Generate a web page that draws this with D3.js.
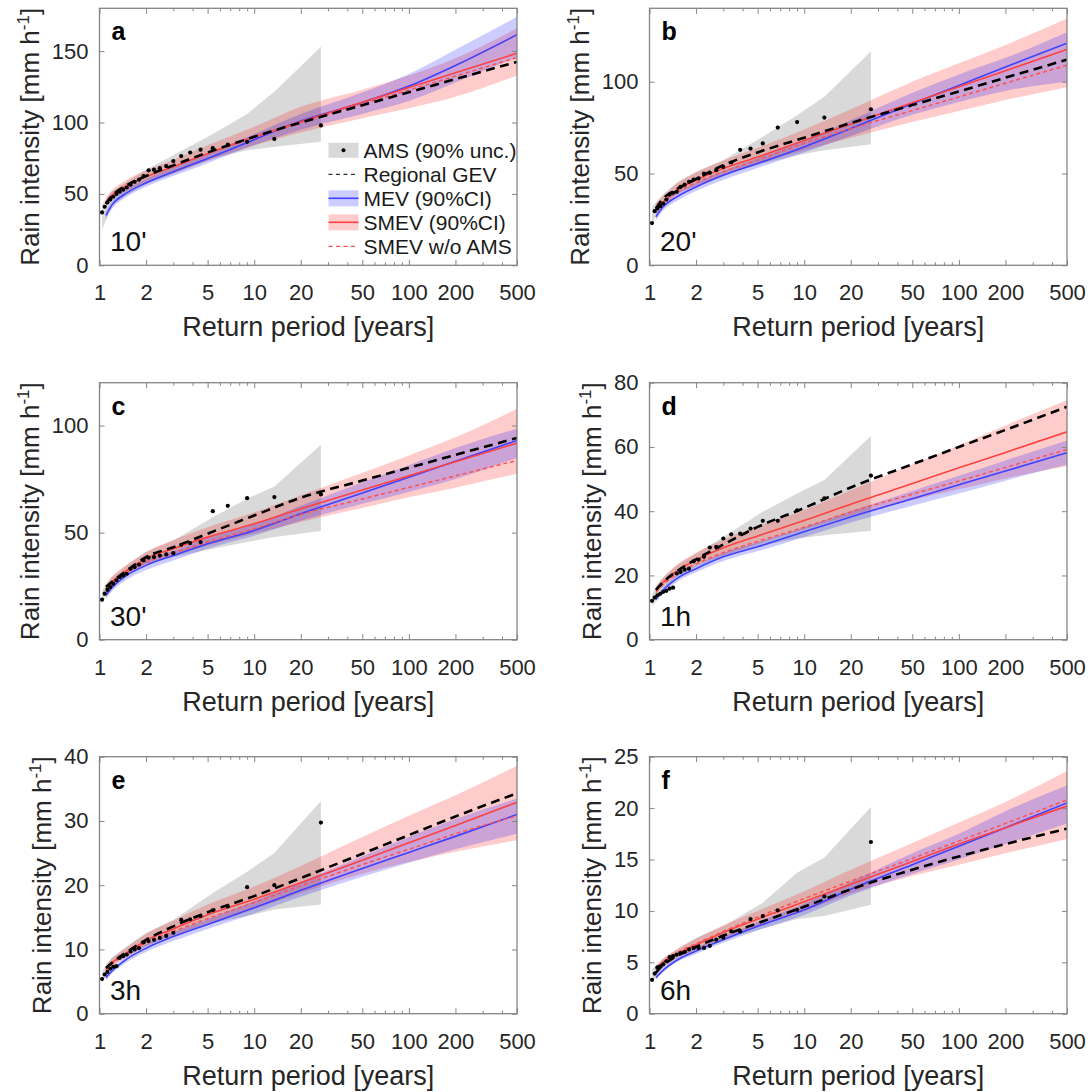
<!DOCTYPE html>
<html>
<head>
<meta charset="utf-8">
<script src="https://cdn.jsdelivr.net/npm/d3@7"></script>
<style>
  body { margin: 0; background: #fff; }
  text { font-family: "Liberation Sans", Arial, Helvetica, sans-serif; }
</style>
</head>
<body>
<div id="chart"></div>
<script>
// ---- data ----
const panelLetters = ['a', 'b', 'c', 'd', 'e', 'f'];
const durations = ["10'", "20'", "30'", "1h", "3h", "6h"];
const yMax = [180, 140, 120, 80, 40, 25];
const yTicks = [[0, 50, 100, 150], [0, 50, 100], [0, 50, 100], [0, 20, 40, 60, 80], [0, 10, 20, 30, 40], [0, 5, 10, 15, 20, 25]];
const xTicks = [1, 2, 5, 10, 20, 50, 100, 200, 500];
const xMinor = [3, 4, 6, 7, 8, 9, 30, 40, 60, 70, 80, 90, 300, 400];
const legendLabels = ['AMS (90% unc.)', 'Regional GEV', 'MEV (90%CI)', 'SMEV (90%CI)', 'SMEV w/o AMS'];

// return periods of the model curves
const tCurve = [1.1, 1.2, 1.5, 2, 3, 5, 10, 20, 50, 100, 200, 500];
// return periods of the AMS uncertainty band
const tBand = [1.04, 1.2, 1.5, 2, 3, 5.4, 9, 13.5, 27];
// plotting positions of the 26 annual maxima
const tAms = [27, 13.5, 9, 6.75, 5.4, 4.5, 3.857, 3.375, 3, 2.7, 2.455, 2.25, 2.077, 1.929, 1.8, 1.688, 1.588, 1.5, 1.421, 1.35, 1.286, 1.227, 1.174, 1.125, 1.08, 1.038];

const ams = [
  [98, 88.5, 86.5, 84.5, 82, 81, 79, 76.5, 73, 69.5, 68, 67, 66.5, 62.5, 60, 58.5, 56.5, 54.5, 53, 51.5, 50, 48, 46, 44, 41, 37],
  [85, 80.5, 78, 75, 66.4, 63.6, 62.9, 56, 53.6, 51.8, 50.4, 50, 47.3, 46.7, 45.5, 44, 42.7, 40, 39.5, 38.5, 35.8, 33.6, 32.2, 31, 29.5, 23],
  [67.8, 66.6, 66.1, 62.5, 60, 45.6, 45.1, 44.3, 40.4, 39.8, 39.3, 38.6, 38.3, 37, 35.1, 33.9, 33.1, 30.8, 30, 29.2, 27.7, 26.1, 24.6, 23.3, 21.5, 18.7],
  [51.1, 44, 40.3, 37, 37, 34.6, 33, 32.8, 31.5, 28.9, 28.7, 25.8, 24.9, 24.4, 22.1, 21.8, 21.1, 20.6, 16.2, 15.9, 15.2, 14.9, 14.3, 13.8, 13.1, 12.1],
  [29.75, 20, 19.7, 16.7, 16.1, 15.2, 14.7, 14.6, 12.6, 12.1, 11.8, 11.5, 11.3, 11.1, 10.2, 10, 9.7, 9.2, 8.95, 8.7, 7.4, 7.3, 7, 6.5, 6.1, 5.4],
  [16.7, 11.4, 10.1, 10.06, 9.5, 9.2, 8, 8, 7.4, 7.2, 6.6, 6.4, 6.4, 6.4, 6.25, 6, 5.9, 5.75, 5.6, 5.5, 5.1, 4.8, 4.6, 4.5, 3.9, 3.3]
];
const amsLo = [
  [25, 42, 49, 57, 64, 75, 80.5, 83, 86.5],
  [22.7, 33.6, 39, 43.6, 49, 55.5, 60, 62.7, 66],
  [16.8, 26.1, 30.8, 35.5, 38.6, 42.5, 45.6, 47.9, 50.7],
  [10.2, 15.4, 19.5, 22.6, 25.8, 29.4, 31.5, 32.5, 33.9],
  [4.8, 7.4, 9, 10.5, 12.1, 14.1, 15.2, 16.2, 17],
  [3, 4.5, 5.4, 6.2, 7.2, 8.3, 9.2, 9.5, 10.6]
];
const amsHi = [
  [43, 51.5, 58.5, 67, 77, 92, 106, 121.5, 153],
  [31.8, 38, 45, 51, 57.3, 70, 81.8, 91.8, 116.4],
  [23, 29.2, 34.7, 40.9, 46.3, 57.2, 65.8, 71.5, 91],
  [14.3, 19, 23.2, 26.8, 32, 39.8, 45.5, 49.7, 63.4],
  [6.6, 8.7, 10.5, 12.6, 14.6, 18.8, 22.1, 25, 33.1],
  [4.3, 5.3, 6.2, 7.4, 8.5, 10.8, 13.7, 15.2, 20.1]
];
const gev = [
  [43, 48.5, 56, 62.5, 70, 79, 90, 100, 112.1, 121.2, 130.4, 142.5],
  [31, 35.5, 41.5, 47, 54.5, 61.5, 69.5, 77.5, 87.3, 94.7, 102.2, 112],
  [24.6, 26.9, 32.3, 38.6, 43.2, 49.5, 58, 66.3, 74.3, 80.3, 86.3, 94.2],
  [15.5, 17.5, 21.3, 25, 29.6, 35.1, 41, 47.4, 54.6, 60, 65.3, 72.5],
  [7.1, 7.9, 9.6, 11.5, 13.6, 15.8, 18.3, 21.1, 24.9, 27.8, 30.7, 34.3],
  [4, 4.6, 5.6, 6.5, 7.6, 8.8, 10.4, 12.1, 14, 15.3, 16.5, 18]
];
const mev = [
  [35, 42, 50.7, 57.7, 65.5, 74.8, 88, 101, 114, 125.5, 140, 161.5],
  [26.4, 31, 37.3, 42.7, 49, 55.5, 64.5, 74.5, 88, 98, 108, 121],
  [20.7, 24.1, 30, 34.7, 39.3, 44.8, 51, 58.8, 68.5, 75.9, 83.3, 93],
  [12.5, 14.9, 19, 22.1, 25.8, 28.9, 33.6, 38.2, 43.9, 48.2, 52.5, 58.2],
  [5.6, 6.6, 8.5, 10.2, 12, 13.9, 16.5, 19.2, 22.6, 25.1, 27.6, 31],
  [3.5, 4.1, 5.2, 6.1, 7.2, 8.5, 10.1, 12.1, 14.5, 16.3, 18.1, 20.5]
];
const mevLo = [
  [32, 39, 48, 55, 62.5, 71.5, 84, 95, 106, 115, 128, 146],
  [24.5, 29, 35, 40.5, 46.5, 53, 61.5, 70.5, 82, 89, 95, 100],
  [19, 22.5, 28, 32.5, 37, 42.5, 48.5, 55.5, 63.5, 69, 75, 85],
  [11.8, 14, 18, 21, 24.5, 27.5, 32, 36.5, 41.7, 45.5, 49.5, 54.5],
  [5.2, 6.2, 8, 9.6, 11.3, 13.2, 15.6, 18.2, 21.3, 23.5, 25.6, 28],
  [3.3, 3.9, 5, 5.8, 6.9, 8.1, 9.6, 11.5, 13.6, 15, 16.5, 18.5]
];
const mevHi = [
  [37.5, 44.5, 53.5, 60.5, 68.5, 78, 92, 106, 121, 134, 151, 174],
  [28.5, 33, 39.5, 45, 51.5, 58.5, 68, 79, 94, 104, 113, 127],
  [22.5, 26, 32, 37, 41.5, 47.5, 54, 62.5, 73.5, 81.5, 89.5, 98.5],
  [13.3, 15.8, 20, 23.2, 27, 30.3, 35, 40, 46.3, 51, 55.8, 62],
  [6, 7, 9, 10.8, 12.7, 14.7, 17.5, 20.5, 24.5, 27.5, 30.3, 33.5],
  [3.8, 4.4, 5.5, 6.4, 7.5, 8.9, 10.7, 12.8, 15.6, 17.5, 19.7, 22.2]
];
const smev = [
  [44, 49, 56, 62, 69, 78.3, 90, 100.5, 114.2, 124.5, 134.8, 148.5],
  [30.9, 33.8, 41, 46.4, 52.7, 59, 68, 77, 88.5, 97.3, 106, 117.6],
  [23.8, 26.9, 32.3, 37.8, 42.5, 47.9, 54.1, 61.1, 69.9, 76.5, 83.1, 91.8],
  [15.3, 17.4, 21.3, 24.8, 28.6, 32.3, 37.1, 42.2, 48.6, 53.5, 58.3, 64.7],
  [7, 7.9, 9.5, 11.4, 13.2, 15.4, 17.8, 20.4, 23.9, 26.6, 29.3, 32.9],
  [4.3, 4.9, 5.8, 6.7, 7.9, 9.2, 10.9, 12.6, 14.8, 16.5, 18.1, 20.2]
];
const smevLo = [
  [41, 45.5, 52, 58, 64.5, 73, 84, 93, 103, 110, 118, 133],
  [28, 31, 38, 43, 49, 55, 62.5, 69.5, 78, 84, 90, 97],
  [21.5, 24.5, 30, 35, 39, 44, 49.5, 55, 61.5, 66.5, 71, 77.5],
  [14.2, 16.2, 19.8, 23.1, 26.2, 29.8, 34.4, 38.5, 43.5, 46.8, 50.2, 54],
  [6.4, 7.3, 8.8, 10.5, 12.2, 14, 16.3, 18.8, 21.8, 23.6, 25.2, 27],
  [3.9, 4.4, 5.4, 6.2, 7.3, 8.5, 10, 11.7, 13.4, 14.5, 15.6, 17]
];
const smevHi = [
  [47.5, 52.5, 60, 66.5, 74, 84, 97, 111, 123, 133, 145, 166],
  [34, 37, 44.5, 50.5, 57, 64, 74, 85, 100, 110, 120, 134.5],
  [26, 29.5, 35, 41, 46.5, 52.5, 59.5, 67.5, 78, 86, 94.5, 107.8],
  [16.7, 18.9, 23.3, 27.1, 31.2, 35.3, 40.4, 46.5, 54.5, 60.5, 66.7, 74.5],
  [7.7, 8.6, 10.3, 12.4, 14.5, 17, 19.8, 23, 27.5, 30.8, 34, 38.6],
  [4.6, 5.2, 6.3, 7.3, 8.6, 10, 11.9, 14, 16.6, 18.6, 20.6, 23.6]
];
const smevNoAms = [
  [43.5, 48.5, 55.5, 62, 69, 78, 89.5, 100, 112.9, 122.7, 132.5, 145.5],
  [30.4, 33.3, 40, 45, 51, 57.3, 66.4, 74.5, 84.3, 91.7, 99.2, 109],
  [23.3, 26.4, 31.6, 36.2, 40.4, 45.6, 51.8, 58.5, 65.7, 71.1, 76.5, 83.7],
  [14.7, 16.7, 20.5, 23.6, 27.1, 30.6, 35, 39.8, 45.3, 49.4, 53.6, 59.2],
  [6.8, 7.7, 9.3, 11.1, 12.8, 14.8, 17.3, 19.9, 23.2, 25.6, 28, 30.8],
  [4.3, 4.9, 5.9, 6.8, 8, 9.4, 11.2, 12.9, 15.1, 16.8, 18.5, 20.8]
];

// ---- layout ----
const W = 1091, H = 1092;
const colLeft = [99.5, 649.5], rowTop = [8.3, 382.7, 756.7];
const pw = 417.5, ph = 257;
const axisColor = '#858585', textColor = '#262626';
const blue = '#4040ff', red = '#ff4040';

const svg = d3.select('#chart').append('svg')
    .attr('width', W)
    .attr('height', H)
    .style('background', '#fff');

function styleAxis(g, size) {
    g.select('.domain').remove();
    g.attr('font-family', null).attr('font-size', null);
    g.selectAll('.tick line').attr('stroke', axisColor).attr('stroke-width', 1);
    g.selectAll('.tick text').attr('fill', textColor).style('font-size', size + 'px');
}

panelLetters.forEach((letter, p) => {
    const left = colLeft[p % 2], top = rowTop[Math.floor(p / 2)];
    const g = svg.append('g').attr('transform', `translate(${left},${top})`);

    const x = d3.scaleLog().domain([1, 500]).range([0, pw]);
    const y = d3.scaleLinear().domain([0, yMax[p]]).range([ph, 0]);

    g.append('clipPath').attr('id', 'clip-' + letter)
        .append('rect').attr('width', pw).attr('height', ph);
    const plot = g.append('g').attr('clip-path', `url(#clip-${letter})`);

    const band = (ts, lo, hi, curve) => d3.area()
        .x((d, i) => x(ts[i]))
        .y0((d, i) => y(lo[i]))
        .y1((d, i) => y(hi[i]))
        .curve(curve)(lo);
    const line = d3.line()
        .x((d, i) => x(tCurve[i]))
        .y(d => y(d))
        .curve(d3.curveMonotoneX);

    // uncertainty bands
    plot.append('path').attr('d', band(tBand, amsLo[p], amsHi[p], d3.curveLinear))
        .attr('fill', '#808080').attr('fill-opacity', 0.3);
    plot.append('path').attr('d', band(tCurve, smevLo[p], smevHi[p], d3.curveMonotoneX))
        .attr('fill', '#ff0000').attr('fill-opacity', 0.2);
    plot.append('path').attr('d', band(tCurve, mevLo[p], mevHi[p], d3.curveMonotoneX))
        .attr('fill', '#0000ff').attr('fill-opacity', 0.2);

    // model curves
    plot.append('path').attr('d', line(mev[p]))
        .attr('fill', 'none').attr('stroke', blue).attr('stroke-width', 1.6);
    plot.append('path').attr('d', line(smev[p]))
        .attr('fill', 'none').attr('stroke', red).attr('stroke-width', 1.6);
    plot.append('path').attr('d', line(smevNoAms[p]))
        .attr('fill', 'none').attr('stroke', '#ff5050').attr('stroke-width', 1.5)
        .attr('stroke-dasharray', '4,3');
    plot.append('path').attr('d', line(gev[p]))
        .attr('fill', 'none').attr('stroke', '#000').attr('stroke-width', 2.6)
        .attr('stroke-dasharray', '9,5.5');

    // annual maxima
    plot.selectAll('circle.ams')
        .data(ams[p])
        .join('circle')
        .attr('class', 'ams')
        .attr('cx', (d, i) => x(tAms[i]))
        .attr('cy', d => y(d))
        .attr('r', 2.1)
        .attr('fill', '#000');

    // axes, ticks pointing inwards on all four sides
    g.append('g').attr('transform', `translate(0,${ph})`)
        .call(d3.axisBottom(x).tickValues(xTicks).tickFormat(d => d)
            .tickSizeInner(-5.5).tickSizeOuter(0).tickPadding(19.4))
        .call(a => styleAxis(a, 22));
    g.append('g').attr('transform', `translate(0,${ph})`)
        .call(d3.axisBottom(x).tickValues(xMinor).tickFormat('').tickSizeInner(-3).tickSizeOuter(0))
        .call(a => styleAxis(a, 22));
    g.append('g')
        .call(d3.axisTop(x).tickValues(xTicks).tickFormat('').tickSizeInner(-5.5).tickSizeOuter(0))
        .call(a => styleAxis(a, 22));
    g.append('g')
        .call(d3.axisTop(x).tickValues(xMinor).tickFormat('').tickSizeInner(-3).tickSizeOuter(0))
        .call(a => styleAxis(a, 22));
    g.append('g')
        .call(d3.axisLeft(y).tickValues(yTicks[p]).tickFormat(d => d)
            .tickSizeInner(-5).tickSizeOuter(0).tickPadding(11))
        .call(a => styleAxis(a, 22));
    g.append('g').attr('transform', `translate(${pw},0)`)
        .call(d3.axisRight(y).tickValues(yTicks[p]).tickFormat('').tickSizeInner(-5).tickSizeOuter(0))
        .call(a => styleAxis(a, 22));

    g.append('rect')
        .attr('width', pw).attr('height', ph)
        .attr('fill', 'none').attr('stroke', axisColor).attr('stroke-width', 1.3);

    // axis titles
    g.append('text')
        .attr('x', pw / 2).attr('y', ph + 71)
        .attr('text-anchor', 'middle')
        .attr('fill', textColor)
        .style('font-size', '27px')
        .text('Return period [years]');

    const digits = d3.max(yTicks[p], v => String(v).length);
    const yl = g.append('text')
        .attr('transform', `translate(${-(24 + 12.25 * digits)},${ph / 2}) rotate(-90)`)
        .attr('text-anchor', 'middle')
        .attr('fill', textColor)
        .style('font-size', '26px');
    yl.append('tspan').text('Rain intensity [mm h');
    yl.append('tspan').attr('dy', -10).style('font-size', '17px').text('-1');
    yl.append('tspan').attr('dy', 10).text(']');

    // panel letter and duration
    g.append('text')
        .attr('x', 12).attr('y', 32)
        .attr('fill', '#000')
        .style('font-size', '25px').style('font-weight', 'bold')
        .text(letter);
    g.append('text')
        .attr('x', 10.5).attr('y', ph - 14)
        .attr('fill', '#111')
        .style('font-size', '28px')
        .text(durations[p]);

    if (p === 0) drawLegend(g);
});

function drawLegend(g) {
    const lx = 229, ly0 = 142, row = 24, sw = 30;
    const leg = g.append('g');
    legendLabels.forEach((label, i) => {
        const cy = ly0 + i * row;
        const item = leg.append('g');
        if (i === 0) {
            item.append('rect').attr('x', lx).attr('y', cy - 7.5).attr('width', sw).attr('height', 15)
                .attr('fill', '#808080').attr('fill-opacity', 0.3);
            item.append('circle').attr('cx', lx + sw / 2).attr('cy', cy).attr('r', 2).attr('fill', '#000');
        } else if (i === 1) {
            item.append('line').attr('x1', lx).attr('x2', lx + sw).attr('y1', cy).attr('y2', cy)
                .attr('stroke', '#333').attr('stroke-width', 1.2).attr('stroke-dasharray', '4,3.5');
        } else if (i === 2 || i === 3) {
            const c = i === 2 ? '#0000ff' : '#ff0000';
            item.append('rect').attr('x', lx).attr('y', cy - 8).attr('width', sw).attr('height', 16)
                .attr('fill', c).attr('fill-opacity', 0.2);
            item.append('line').attr('x1', lx).attr('x2', lx + sw).attr('y1', cy).attr('y2', cy)
                .attr('stroke', i === 2 ? blue : red).attr('stroke-width', 1.6);
        } else {
            item.append('line').attr('x1', lx).attr('x2', lx + sw).attr('y1', cy).attr('y2', cy)
                .attr('stroke', '#ff5050').attr('stroke-width', 1.3).attr('stroke-dasharray', '4,3.5');
        }
        item.append('text')
            .attr('x', lx + sw + 5).attr('y', cy).attr('dy', '0.35em')
            .attr('fill', '#1a1a1a')
            .style('font-size', '21px')
            .text(label);
    });
}
</script>
</body>
</html>
